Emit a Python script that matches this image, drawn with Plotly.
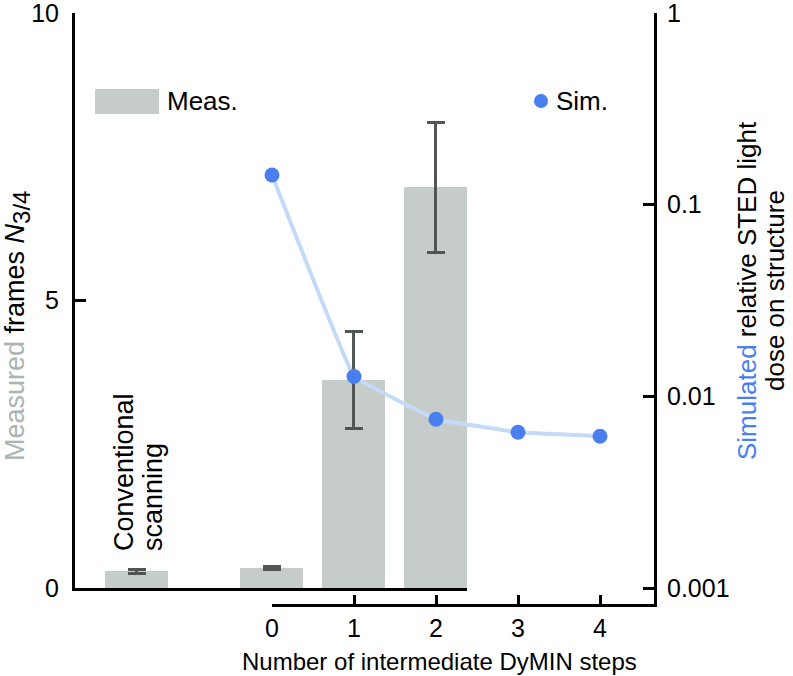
import plotly.graph_objects as go

# ---- data ----
bar_x = [-1.65, 0, 1, 2]
bar_vals = [0.29, 0.35, 3.62, 6.97]
bar_err = [0.03, 0.03, 0.84, 1.13]

sim_steps = [0, 1, 2, 3, 4]
sim_dose = [0.143, 0.0127, 0.0076, 0.0065, 0.0062]

x_ticks = [0, 1, 2, 3, 4]
left_ticks = [0, 5, 10]
right_ticks = [0.001, 0.01, 0.1, 1]
right_tick_text = ["0.001", "0.01", "0.1", "1"]

# ---- layout geometry (screen pixels; body margin removed by post_script) ----
W, H = 793, 676
X0, X1, Y0, Y1 = 75, 654, 13, 604          # plot area on screen
L, T = X0, Y0
R, B = W - X1, H - Y1
PW, PH = X1 - X0, Y1 - Y0

FONT = "Liberation Sans, Arial, Helvetica, sans-serif"
BAR_C = "#c5ccc9"
ERR_C = "#4f5654"
DOT_C = "#4a7ff0"
LINE_C = "#c4daf6"
TITLE_GREY = "#aab4b1"


def px(xs):
    return (xs - X0) / PW


def py(ys):
    return (Y1 - ys) / PH


fig = go.Figure()

fig.add_trace(go.Bar(
    x=bar_x, y=bar_vals, width=0.77, marker=dict(color=BAR_C, line=dict(width=0)),
    error_y=dict(type="data", array=bar_err, visible=True, color=ERR_C, thickness=3, width=9),
    xaxis="x", yaxis="y", showlegend=False,
))

fig.add_trace(go.Scatter(
    x=sim_steps, y=sim_dose, mode="lines+markers",
    line=dict(color=LINE_C, width=4, shape="spline", smoothing=0.15),
    marker=dict(color=DOT_C, size=15),
    xaxis="x2", yaxis="y2", cliponaxis=False, showlegend=False,
))

TICKFONT = dict(family=FONT, size=25, color="black")
common = dict(showgrid=False, zeroline=False, linecolor="black", linewidth=3,
              tickcolor="black", tickwidth=3, automargin=False, ticklabeloverflow="allow")

fig.update_layout(
    width=W, height=H,
    margin=dict(l=L, r=R, t=T, b=B, autoexpand=False),
    paper_bgcolor="white", plot_bgcolor="rgba(0,0,0,0)",
    font=dict(family=FONT, size=24, color="black"),
    bargap=0,
    xaxis=dict(domain=[0, px(467)], range=[-2.4, 2.38], anchor="y", showline=True,
               showticklabels=False, ticks="", **common),
    yaxis=dict(domain=[py(588), 1], range=[0, 10.0005], anchor="x", showline=True,
               tickvals=left_ticks, ticks="inside", ticklen=11, ticklabelstandoff=8,
               tickfont=TICKFONT, **common),
    xaxis2=dict(domain=[px(272), 1], range=[0, (X1 - 272) / 82.0], anchor="y2", showline=True,
                tickvals=x_ticks, ticks="inside", ticklen=9, ticklabelstandoff=0,
                tickfont=TICKFONT, **common),
    yaxis2=dict(domain=[0, 1], type="log", range=[-3.083, 0.0002], anchor="x2", side="right",
                showline=True, tickvals=right_ticks, ticktext=right_tick_text,
                ticks="inside", ticklen=11, ticklabelstandoff=5, tickfont=TICKFONT, **common),
)

# legend drawn manually
fig.add_shape(type="rect", xref="paper", yref="paper",
              x0=px(95), x1=px(159), y0=py(114), y1=py(89),
              fillcolor=BAR_C, line=dict(width=0))
fig.add_shape(type="circle", xref="paper", yref="paper",
              x0=px(534), x1=px(548), y0=py(108), y1=py(94),
              fillcolor=DOT_C, line=dict(width=0))

annotations = [
    dict(text="Meas.", x=px(165), y=py(101), xanchor="left", yanchor="middle", size=26),
    dict(text="Sim.", x=px(554), y=py(101), xanchor="left", yanchor="middle", size=26),
    dict(text="Number of intermediate DyMIN steps", x=px(439), y=py(661),
         xanchor="center", yanchor="middle", size=24),
    dict(text=(f'<span style="color:{TITLE_GREY}">Measured</span> frames <i>N</i>'
               '<sub><span style="font-size:24px">3/4</span></sub>'),
         x=px(17), y=py(326), textangle=-90, xanchor="center", yanchor="middle", size=27,
         borderpad=0),
    dict(text=f'<span style="color:{DOT_C}">Simulated</span> relative STED light',
         x=px(747), y=py(291), textangle=-90, xanchor="center", yanchor="middle", size=26),
    dict(text="dose on structure",
         x=px(775), y=py(291), textangle=-90, xanchor="center", yanchor="middle", size=26),
    dict(text="Conventional", x=px(124), y=py(553), textangle=-90,
         xanchor="center", yanchor="bottom", size=27),
    dict(text="scanning", x=px(153), y=py(553), textangle=-90,
         xanchor="center", yanchor="bottom", size=27),
]
for a in annotations:
    size = a.pop("size")
    fig.add_annotation(xref="paper", yref="paper", showarrow=False,
                       font=dict(family=FONT, size=size, color="black"), **a)

fig.write_html("out.html", config={"displayModeBar": False},
               post_script="document.body.style.margin='0';document.body.style.overflow='hidden';")
